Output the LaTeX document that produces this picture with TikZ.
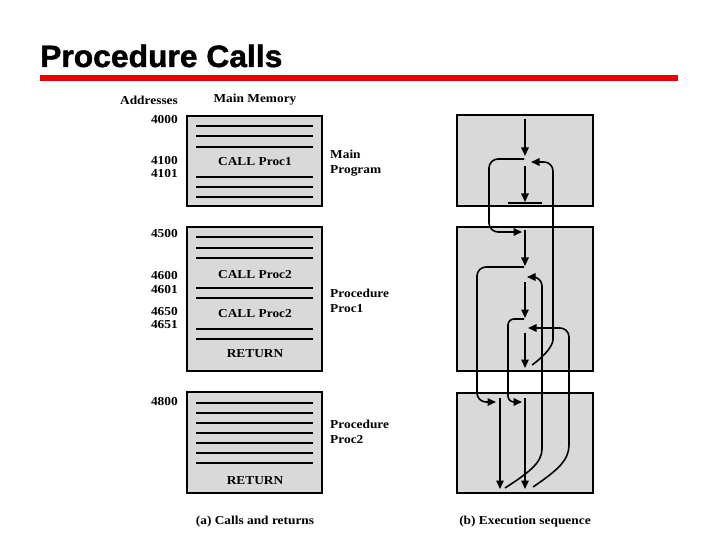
\documentclass[tikz,border=0pt]{standalone}
\usepackage{fontspec}
\setmainfont{Liberation Serif}[FakeStretch=1.1]
\newfontfamily\headfont{Liberation Sans}[BoldFeatures={FakeBold=1.5,FakeStretch=1.03}]
\usepackage{tikz}
\usetikzlibrary{arrows.meta}

\begin{document}
\begin{tikzpicture}[x=1bp,y=-1bp,
	every node/.style={font=\fontsize{12.2}{15}\selectfont\bfseries, inner sep=0pt},
	membox/.style={draw=black, fill=black!15, line width=1.4pt},
	memline/.style={line width=1.3pt},
	seq/.style={line width=1.5pt, -{Triangle[length=8.5bp,width=7.5bp]}},
	jump/.style={line width=1.6pt, rounded corners=9bp, -{Triangle[length=8.5bp,width=7.5bp]}}]
	
	\useasboundingbox (0,0) rectangle (720,540);
	
	% title
	\node[anchor=base west, font=\headfont\fontsize{31}{31}\selectfont\bfseries] (title) at (40,67) {Procedure Calls};
	\fill[red!92!black] (40,75) rectangle (678,81);
	
	% (a) calls and returns
	\node (addr) at (149,100) {Addresses};
	\node (mem) at (255,100) {Main Memory};
	
	\draw[membox] (187,116) rectangle (322,206);
	\draw[membox] (187,227) rectangle (322,371);
	\draw[membox] (187,392) rectangle (322,493);
	
	\foreach \y in {126,136,177,187,197} \draw[memline] (196,\y) -- (313,\y);
	\draw[line width=2.4pt] (196,147) -- (313,147);
	\foreach \y in {237,248,258,288,298,329,339} \draw[memline] (196,\y) -- (313,\y);
	\foreach \y in {403,413,...,463} \draw[memline] (196,\y) -- (313,\y);
	
	\node (call1) at (255,162) {CALL Proc1};
	\node (call2a) at (255,275) {CALL Proc2};
	\node (call2b) at (255,314) {CALL Proc2};
	\node (ret1) at (255,354) {RETURN};
	\node (ret2) at (255,481) {RETURN};
	
	\foreach \a/\y in {4000/120,4100/161,4101/174,4500/234,4600/276,4601/290,4650/312,4651/325,4800/402}
		\node[anchor=east] (a\a) at (178,\y) {\a};
	
	\node[anchor=west, align=left] (mainprog) at (330,163) {Main\\Program};
	\node[anchor=west, align=left] (proc1) at (330,301) {Procedure\\Proc1};
	\node[anchor=west, align=left] (proc2) at (330,432) {Procedure\\Proc2};
	
	\node (capa) at (255,522) {(a) Calls and returns};
	
	% (b) execution sequence
	\draw[membox] (457,115) rectangle (593,206);
	\draw[membox] (457,227) rectangle (593,371);
	\draw[membox] (457,393) rectangle (593,493);
	
	\draw[seq] (525,119) -- (525,156);
	\draw[seq] (525,166) -- (525,202);
	\draw[line width=1.3pt] (508,203) -- (542,203);
	\draw[seq] (525,230) -- (525,266);
	\draw[seq] (525,282) -- (525,318);
	\draw[seq] (525,333) -- (525,368);
	\draw[seq] (500,398) -- (500,489);
	\draw[seq] (525,398) -- (525,489);
	
	% calls
	\draw[jump] (524,159) -- (489,159) -- (489,232) -- (522,232);
	\draw[jump] (524,267) -- (477,267) -- (477,402) -- (496,402);
	\draw[jump, rounded corners=6bp] (524,319) -- (508,319) -- (508,402) -- (522,402);
	
	% returns
	\draw[jump] (532,365) .. controls (547,354) and (553,345) .. (553,330) -- (553,162) -- (531,162);
	\draw[jump] (505,488) .. controls (530,472) and (542,462) .. (542,440) -- (542,277) -- (527,277);
	\draw[jump] (533,487) .. controls (558,470) and (569,460) .. (569,436) -- (569,328) -- (528,328);
	
	\node (capb) at (525,522) {(b) Execution sequence};
	
\end{tikzpicture}
\end{document}
